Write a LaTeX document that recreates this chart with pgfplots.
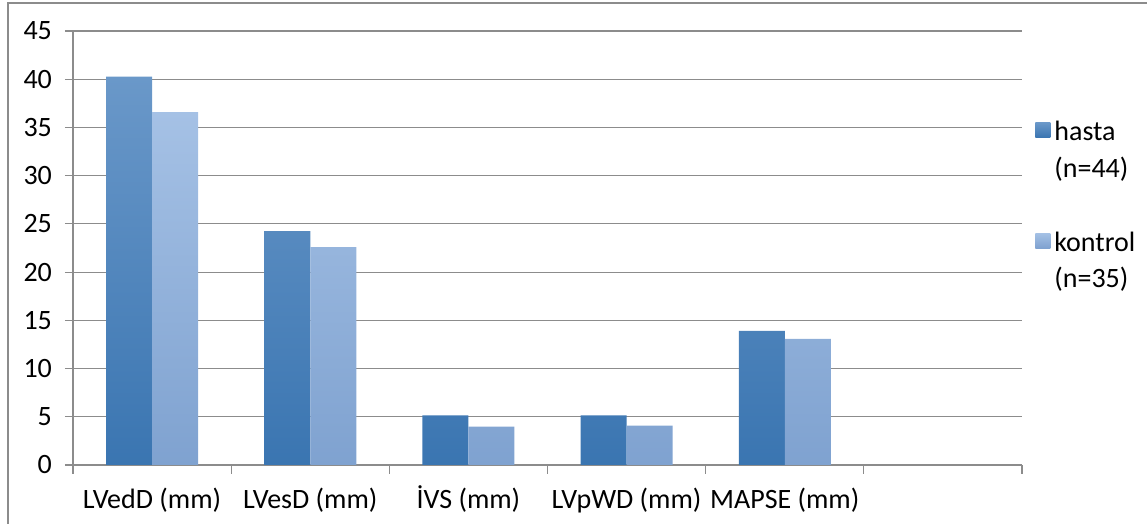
\documentclass[border=0pt]{standalone}
\usepackage{pgfplots}
\pgfplotsset{compat=1.18}
\usepackage{fontspec}
\setmainfont{Carlito}
\definecolor{hTop}{HTML}{6A98C9}
\definecolor{hMid}{HTML}{4A88C5}
\definecolor{hBot}{HTML}{3A75B1}
\definecolor{kTop}{HTML}{A5C1E5}
\definecolor{kMid}{HTML}{9BBBE3}
\definecolor{kBot}{HTML}{7FA2D0}
\definecolor{gridc}{HTML}{8C8C8C}
\begin{document}
\begin{tikzpicture}[x=1pt,y=1pt]
\useasboundingbox (-36.5,-29.5) rectangle (537,232.5);
\draw[gridc, line width=0.6pt] (-32.5,-29.5) -- (-32.5,231) -- (537,231);
\begin{axis}[
  at={(0,0)}, anchor=south west,
  width=474.5pt, height=217pt, scale only axis,
  ymin=0, ymax=45, ytick={0,5,...,45},
  xmin=-0.5, xmax=5.5,
  xtick={0,1,2,3,4},
  xticklabels={LVedD (mm),LVesD (mm),İVS (mm),LVpWD (mm),MAPSE (mm)},
  minor xtick={-0.5,0.5,1.5,2.5,3.5,4.5,5.5},
  major x tick style={draw=none},
  minor tick length=4.5pt,
  major tick length=4pt,
  tick align=outside,
  axis x line*=bottom, axis y line*=left,
  axis line style={gridc, line width=0.6pt},
  tick style={gridc, line width=0.6pt},
  ymajorgrids, grid style={gridc, line width=0.6pt},
  ybar=0pt, bar width=23pt,
  /pgf/number format/assume math mode=true,
  tick label style={font=\fontsize{14}{16.5}\selectfont},
  yticklabel style={xshift=-3pt},
  xticklabel style={yshift=-4pt, text height=10pt, text depth=3pt},
  legend style={draw=none, fill=none, at={(478pt,179pt)}, anchor=north west,
    font=\fontsize{14}{16.5}\selectfont, row sep=37pt,
    /tikz/every even column/.append style={column sep=2pt}},
  legend cell align=left,
  legend image code/.code={\path[#1, draw=none] (0pt,-4pt) rectangle (7.5pt,3.5pt);},
]
\addplot[draw=none, top color=hTop, middle color=hMid, bottom color=hBot]
  coordinates {(0,40.27) (1,24.26) (2,5.15) (3,5.15) (4,13.9)};
\addplot[draw=none, top color=kTop, middle color=kMid, bottom color=kBot]
  coordinates {(0,36.6) (1,22.6) (2,3.97) (3,4.08) (4,13.07)};
\legend{{\renewcommand{\arraystretch}{1.1}\begin{tabular}[t]{@{}l@{}}hasta\\(n=44)\end{tabular}},
        {\renewcommand{\arraystretch}{1.1}\begin{tabular}[t]{@{}l@{}}kontrol\\(n=35)\end{tabular}}}
\end{axis}
\end{tikzpicture}
\end{document}
